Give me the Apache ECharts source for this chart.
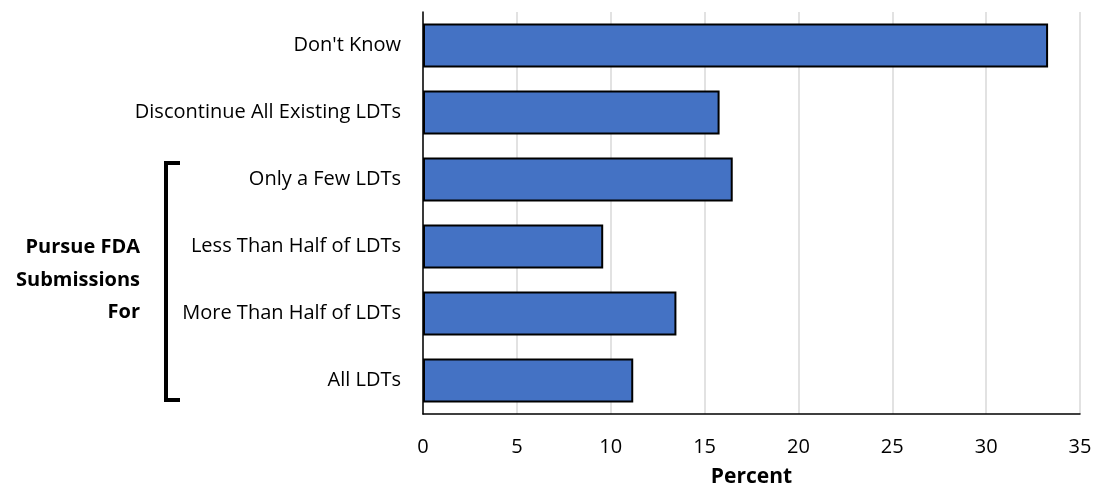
<!DOCTYPE html>
<html>
<head>
<meta charset="utf-8">
<script src="https://cdn.jsdelivr.net/npm/echarts@6/dist/echarts.min.js"></script>
<style>
html,body{margin:0;padding:0;background:#fff;}
#chart{width:1095px;height:487px;}
</style>
</head>
<body>
<div id="chart"></div>
<script>
const categories = ["Don't Know", "Discontinue All Existing LDTs", "Only a Few LDTs", "Less Than Half of LDTs", "More Than Half of LDTs", "All LDTs"];
const percentValues = [33.3, 15.8, 16.5, 9.6, 13.5, 11.2];
const xTicks = [0, 5, 10, 15, 20, 25, 30, 35];
const groupLabel = ["Pursue FDA", "Submissions", "For"];

const FONT = "Open Sans";
const chart = echarts.init(document.getElementById('chart'), null, {renderer: 'canvas'});
chart.setOption({
  animation: false,
  backgroundColor: '#ffffff',
  grid: {left: 423, right: 15, top: 12, bottom: 73, containLabel: false, outerBoundsMode: 'none'},
  xAxis: {
    type: 'value',
    min: xTicks[0], max: xTicks[xTicks.length - 1], interval: 5,
    name: 'Percent', nameLocation: 'middle', nameGap: 53,
    nameTextStyle: {fontFamily: FONT, fontSize: 21, fontWeight: 'bold', color: '#000'},
    axisLine: {show: true, lineStyle: {color: '#000', width: 1.5}},
    axisTick: {show: false},
    axisLabel: {fontFamily: FONT, fontSize: 20, color: '#000', margin: 23},
    splitLine: {show: true, lineStyle: {color: '#d9d9d9', width: 1.5}}
  },
  yAxis: {
    type: 'category', data: categories, inverse: true,
    axisLine: {show: true, lineStyle: {color: '#000', width: 1.5}},
    axisTick: {show: false},
    axisLabel: {fontFamily: FONT, fontSize: 20, color: '#000', margin: 22}
  },
  series: [{
    type: 'bar', data: percentValues, barCategoryGap: '34.5%',
    itemStyle: {color: '#4472C4', borderColor: '#000', borderWidth: 2}
  }],
  graphic: [
    {type: 'polyline', shape: {points: [[180, 163], [166, 163], [166, 400], [180, 400]]},
     style: {stroke: '#000', lineWidth: 4, fill: null}},
    {type: 'text', x: 140, y: 247,
     style: {text: groupLabel[0], fontFamily: FONT, fontSize: 20, fontWeight: 'bold', fill: '#000', align: 'right', verticalAlign: 'middle'}},
    {type: 'text', x: 140, y: 280,
     style: {text: groupLabel[1], fontFamily: FONT, fontSize: 20, fontWeight: 'bold', fill: '#000', align: 'right', verticalAlign: 'middle'}},
    {type: 'text', x: 140, y: 312,
     style: {text: groupLabel[2], fontFamily: FONT, fontSize: 20, fontWeight: 'bold', fill: '#000', align: 'right', verticalAlign: 'middle'}}
  ]
});
</script>
</body>
</html>
